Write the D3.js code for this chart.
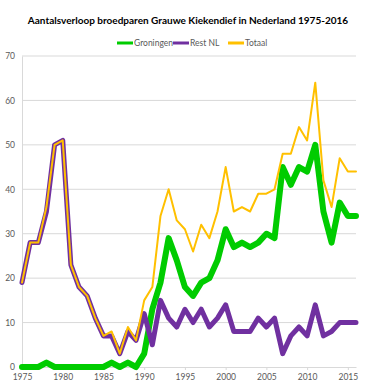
<!DOCTYPE html>
<html>
<head>
<meta charset="utf-8">
<script src="https://cdn.jsdelivr.net/npm/d3@7"></script>
<style>
  body { margin: 0; background: #fff; }
  text { font-family: Lato, "Open Sans", sans-serif; fill: #595959; }
</style>
</head>
<body>
<div id="chart"></div>
<script>
const years = d3.range(1975, 2017);
const groningen = [0, 0, 0, 1, 0, 0, 0, 0, 0, 0, 0, 1, 0, 1, 0, 3, 13, 19, 29, 24, 18, 16, 19, 20, 24, 31, 27, 28, 27, 28, 30, 29, 45, 41, 45, 44, 50, 35, 28, 37, 34, 34];
const restNL = [19, 28, 28, 35, 50, 51, 23, 18, 16, 11, 7, 7, 3, 8, 6, 12, 5, 15, 11, 9, 13, 10, 13, 9, 11, 14, 8, 8, 8, 11, 9, 11, 3, 7, 9, 7, 14, 7, 8, 10, 10, 10];
const totaal = [19, 28, 28, 36, 50, 51, 23, 18, 16, 11, 7, 8, 3, 9, 6, 15, 18, 34, 40, 33, 31, 26, 32, 29, 35, 45, 35, 36, 35, 39, 39, 40, 48, 48, 54, 51, 64, 42, 36, 47, 44, 44];
const yTicks = [0, 10, 20, 30, 40, 50, 60, 70];
const xTicks = [1975, 1980, 1985, 1990, 1995, 2000, 2005, 2010, 2015];

const series = [
  { name: "Groningen", values: groningen, color: "#00cc00", width: 6 },
  { name: "Rest NL", values: restNL, color: "#7030a0", width: 5 },
  { name: "Totaal", values: totaal, color: "#ffc000", width: 2 }
];

const width = 370, height = 390;
const margin = { top: 56, right: 14, bottom: 23, left: 22 };

const svg = d3.select("#chart")
  .append("svg")
  .attr("width", width)
  .attr("height", height);

const x = d3.scaleLinear()
  .domain([1975, 2016])
  .range([margin.left, width - margin.right]);

const y = d3.scaleLinear()
  .domain([0, 70])
  .range([height - margin.bottom, margin.top]);

// gridlines
svg.append("g")
  .selectAll("line")
  .data(yTicks.slice(1))
  .enter()
  .append("line")
  .attr("x1", x(1975))
  .attr("x2", x(2016))
  .attr("y1", d => y(d))
  .attr("y2", d => y(d))
  .attr("stroke", "#d9d9d9")
  .attr("stroke-width", 1);

// left axis (line + labels)
const yAxis = svg.append("g")
  .attr("transform", `translate(${margin.left},0)`)
  .call(d3.axisLeft(y).tickValues(yTicks).tickSize(0).tickPadding(7));
yAxis.select(".domain").attr("stroke", "#d9d9d9");
yAxis.selectAll("text")
  .style("font-family", "Lato, sans-serif")
  .style("font-size", "8.5px")
  .attr("fill", "#595959");

// bottom axis
const xAxis = svg.append("g")
  .attr("transform", `translate(0,${height - margin.bottom})`)
  .call(d3.axisBottom(x).tickValues(xTicks).tickFormat(d3.format("d")).tickSize(3).tickSizeOuter(0).tickPadding(4));
xAxis.select(".domain").attr("stroke", "#d9d9d9");
xAxis.selectAll("line").attr("stroke", "#d9d9d9");
xAxis.selectAll("text")
  .style("font-family", "Lato, sans-serif")
  .style("font-size", "8.5px")
  .attr("fill", "#595959");

// lines
const line = d3.line()
  .x((d, i) => x(years[i]))
  .y(d => y(d));

svg.append("g")
  .selectAll("path")
  .data(series)
  .enter()
  .append("path")
  .attr("d", d => line(d.values))
  .attr("fill", "none")
  .attr("stroke", d => d.color)
  .attr("stroke-width", d => d.width)
  .attr("stroke-linejoin", "round")
  .attr("stroke-linecap", "round");

// title
svg.append("text")
  .attr("x", 188)
  .attr("y", 24)
  .attr("text-anchor", "middle")
  .style("font-size", "10px")
  .style("font-weight", "bold")
  .style("fill", "#000")
  .text("Aantalsverloop broedparen Grauwe Kiekendief in Nederland 1975-2016");

// legend
const legendX = [117, 173, 228];
const legend = svg.append("g")
  .selectAll("g")
  .data(series)
  .enter()
  .append("g")
  .attr("transform", (d, i) => `translate(${legendX[i]},43)`);

legend.append("line")
  .attr("x1", 0)
  .attr("x2", 16)
  .attr("stroke", d => d.color)
  .attr("stroke-width", 3);

legend.append("text")
  .attr("x", 17)
  .attr("y", 3)
  .style("font-size", "8.5px")
  .text(d => d.name);
</script>
</body>
</html>
